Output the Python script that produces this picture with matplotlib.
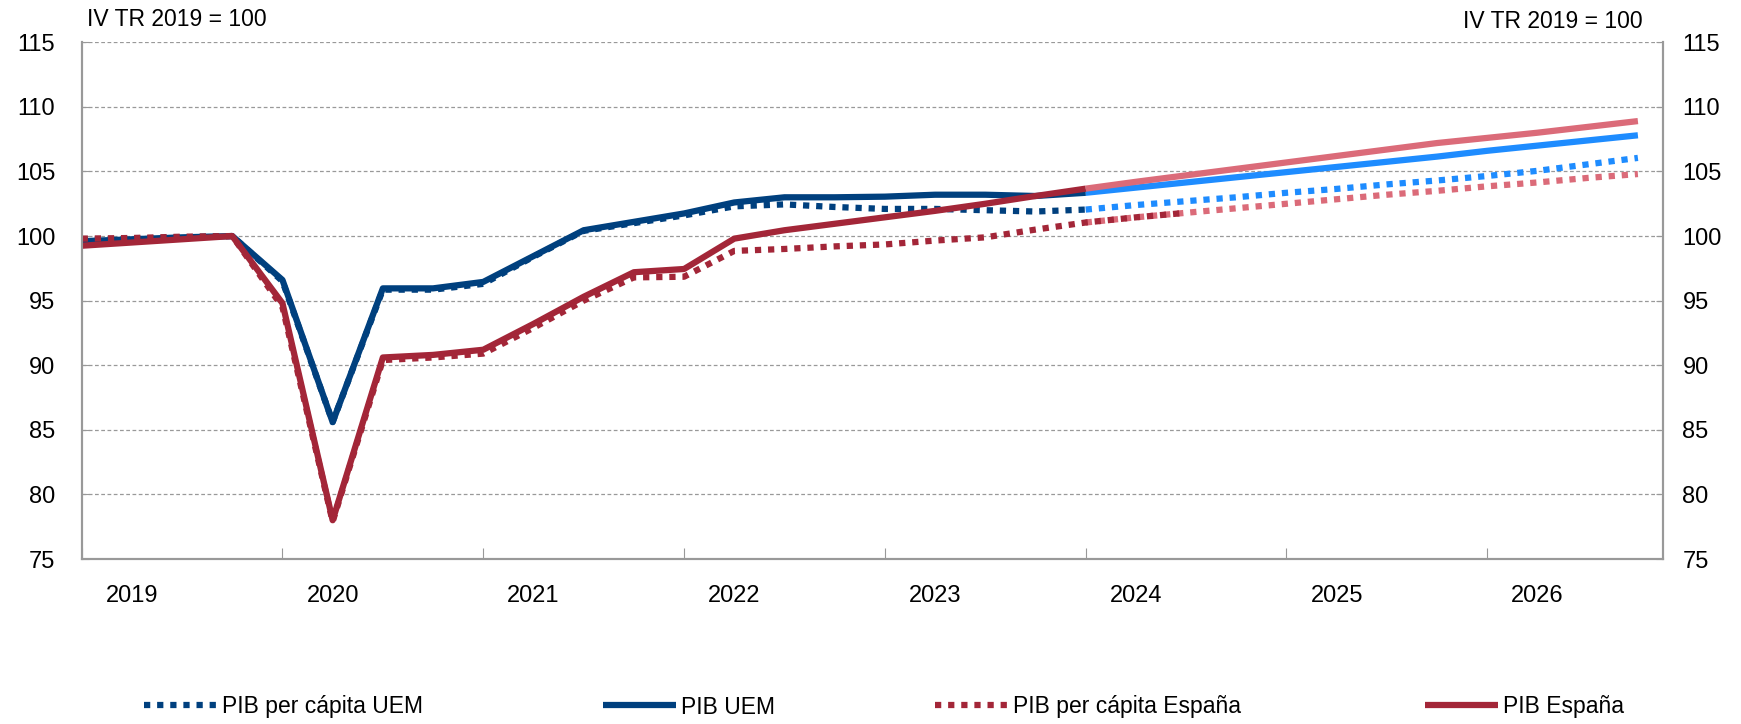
import matplotlib.pyplot as plt
from matplotlib.lines import Line2D
import numpy as np

plt.rcParams['font.family'] = ['Liberation Sans', 'DejaVu Sans']

# quarterly index, 2019 Q1 = 0 ... 2026 Q4 = 31
years = ['2019', '2020', '2021', '2022', '2023', '2024', '2025', '2026']

# observed data (IV TR 2019 = 100)
pib_pc_uem = [99.7, 99.8, 99.9, 100.0, 96.5, 85.6, 95.85, 95.85, 96.3, 98.4, 100.4,
              101.0, 101.6, 102.3, 102.45, 102.25, 102.1, 102.1, 102.0, 101.9, 102.05]
pib_uem = [99.6, 99.75, 99.9, 100.0, 96.6, 85.6, 95.95, 95.95, 96.45, 98.45, 100.45,
           101.1, 101.75, 102.6, 103.0, 103.0, 103.05, 103.2, 103.2, 103.1, 103.35]
pib_pc_esp = [99.8, 99.85, 99.95, 100.0, 94.5, 77.9, 90.4, 90.6, 90.9, 92.9, 95.0,
              96.8, 96.85, 98.85, 99.0, 99.2, 99.35, 99.65, 99.9, 100.5, 101.05,
              101.45, 101.8]
pib_esp = [99.25, 99.5, 99.75, 100.0, 94.8, 78.0, 90.6, 90.8, 91.2, 93.2, 95.3,
           97.2, 97.45, 99.8, 100.45, 100.95, 101.45, 101.95, 102.5, 103.1, 103.67]

# projections, 2024 Q1 -> 2026 Q4
proj_pc_uem = [102.05, 102.4, 102.7, 103.0, 103.35, 103.65, 104.0, 104.3, 104.65,
               105.05, 105.55, 106.05]
proj_uem = [103.35, 103.75, 104.15, 104.55, 104.95, 105.35, 105.75, 106.15, 106.6,
            107.0, 107.4, 107.8]
proj_pc_esp = [101.05, 101.45, 101.8, 102.15, 102.5, 102.85, 103.2, 103.5, 103.85,
               104.15, 104.5, 104.8]
proj_esp = [103.67, 104.2, 104.7, 105.2, 105.7, 106.2, 106.7, 107.2, 107.6, 108.0,
            108.45, 108.9]

azul = '#00407E'
rojo = '#A32638'
azul_cl = '#1E8CFF'
rojo_cl = '#DB6B79'
dots = (0, (1.0, 1.1))
lw = 4.5
fs_ticks = 17
fs_text = 16.5

fig = plt.figure(figsize=(17.41, 7.24), dpi=100)
ax = fig.add_axes([0.0469, 0.2279, 0.9083, 0.7137])

x_hist = np.arange(len(pib_uem))
x_proj = np.arange(20, 20 + len(proj_uem))

ax.plot(x_proj, proj_pc_uem, color=azul_cl, lw=lw, ls=dots, dash_capstyle='butt', zorder=3)
ax.plot(x_proj, proj_pc_esp, color=rojo_cl, lw=lw, ls=dots, dash_capstyle='butt', zorder=3)
ax.plot(x_proj, proj_uem, color=azul_cl, lw=lw, solid_capstyle='butt', zorder=3)
ax.plot(x_proj, proj_esp, color=rojo_cl, lw=lw, solid_capstyle='butt', zorder=3)

ax.plot(x_hist, pib_pc_uem, color=azul, lw=lw, ls=dots, dash_capstyle='butt', zorder=4)
ax.plot(x_hist, pib_uem, color=azul, lw=lw, solid_capstyle='butt', zorder=4)
ax.plot(np.arange(len(pib_pc_esp)), pib_pc_esp, color=rojo, lw=lw, ls=dots,
        dash_capstyle='butt', zorder=5)
ax.plot(x_hist, pib_esp, color=rojo, lw=lw, solid_capstyle='butt', zorder=5)

ax.set_xlim(0, 31.5)
ax.set_ylim(75, 115)
ax.set_yticks(np.arange(75, 116, 5))
ax.grid(axis='y', color='#999999', ls=(0, (3, 2)), lw=0.9)
ax.set_axisbelow(True)

ax.set_xticks(np.arange(0, 32, 4))
ax.set_xticklabels([])
ax.set_xticks(np.arange(1, 32, 4), minor=True)
ax.set_xticklabels(years, minor=True)
ax.tick_params(axis='x', which='major', direction='in', length=8, color='#999999')
ax.tick_params(axis='x', which='minor', length=0, pad=19, labelsize=fs_ticks)
ax.tick_params(axis='y', direction='in', length=5, color='#999999', labelsize=fs_ticks,
               pad=19)

# right-hand axis with the same scale
ax2 = ax.twinx()
ax2.set_ylim(75, 115)
ax2.set_yticks(np.arange(75, 116, 5))
ax2.tick_params(axis='y', direction='in', length=5, color='#999999', labelsize=fs_ticks,
                pad=14)

for a in (ax, ax2):
    for s in ['left', 'right', 'bottom']:
        a.spines[s].set_color('#999999')
        a.spines[s].set_linewidth(1.5)
    a.spines['top'].set_visible(False)

fig.text(87 / 1741, 1 - 20 / 724, 'IV TR 2019 = 100', ha='left', va='center', fontsize=fs_text)
fig.text(1643 / 1741, 1 - 22 / 724, 'IV TR 2019 = 100', ha='right', va='center', fontsize=fs_text)

entradas = [
    ('PIB per cápita UEM', azul, dots, 144),
    ('PIB UEM', azul, '-', 603),
    ('PIB per cápita España', rojo, dots, 935),
    ('PIB España', rojo, '-', 1425),
]
for nombre, col, estilo, x0 in entradas:
    h = Line2D([], [], color=col, lw=lw, ls=estilo, dash_capstyle='butt',
               solid_capstyle='butt')
    fig.legend(handles=[h], labels=[nombre], loc='center left',
               bbox_to_anchor=(x0 / 1741, 1 - 707 / 724), frameon=False,
               fontsize=fs_text, handlelength=3.2, handletextpad=0.2,
               borderpad=0, borderaxespad=0)

fig.savefig('out.png', dpi=100)
